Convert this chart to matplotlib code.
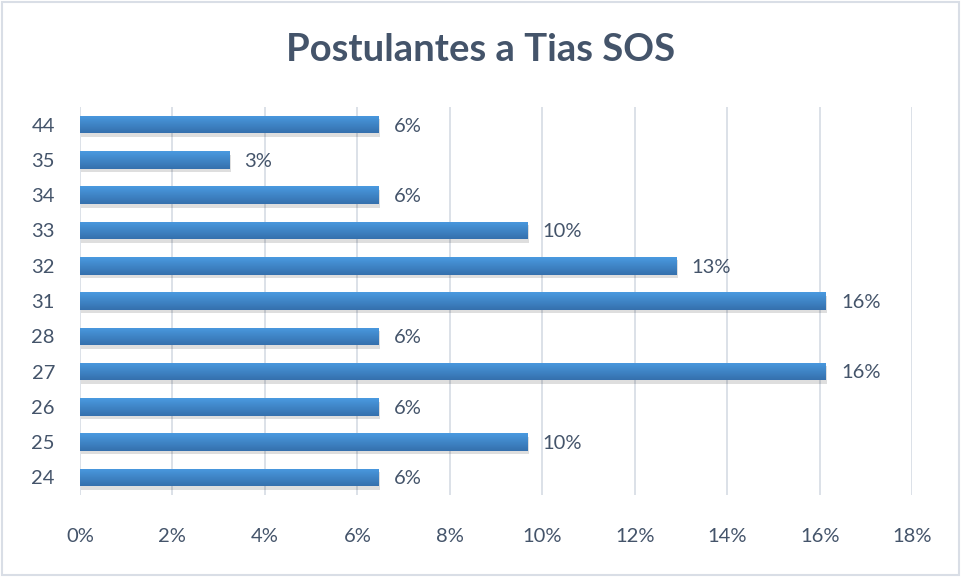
import numpy as np
import matplotlib.pyplot as plt
import matplotlib.patheffects as pe
from matplotlib.ticker import FuncFormatter

plt.rcParams['font.family'] = ['Lato', 'DejaVu Sans']

# Data
edades = ["24", "25", "26", "27", "28", "31", "32", "33", "34", "35", "44"]
porcentajes = [6.45, 9.68, 6.45, 16.13, 6.45, 16.13, 12.90, 9.68, 6.45, 3.23, 6.45]
etiquetas = ["6%", "10%", "6%", "16%", "6%", "16%", "13%", "10%", "6%", "3%", "6%"]

text_color = "#44546A"
grid_color = "#D9DEE6"

fig = plt.figure(figsize=(9.61, 5.77), dpi=100)
ax = fig.add_axes([0.0832, 0.142, 0.866, 0.6725])

y = np.arange(len(edades))
bars = ax.barh(y, porcentajes, height=0.5, color="#3F86CF", zorder=3,
               path_effects=[pe.SimplePatchShadow(offset=(1, -2.5), shadow_rgbFace="#000000", alpha=0.13), pe.Normal()])

# vertical gradient on each bar (lighter top, darker bottom)
grad = np.linspace(0, 1, 64).reshape(-1, 1)
cmap = plt.matplotlib.colors.LinearSegmentedColormap.from_list("g", ["#4A9AE0", "#3570AD"])
for b in bars:
    x0, y0, w, h = b.get_x(), b.get_y(), b.get_width(), b.get_height()
    im = ax.imshow(grad, cmap=cmap, aspect="auto", extent=(x0, x0 + w, y0, y0 + h),
                   origin="upper", zorder=4)
    im.set_clip_path(b)

for i, (v, lab) in enumerate(zip(porcentajes, etiquetas)):
    ax.annotate(lab, (v, i), xytext=(11, -1), textcoords="offset points",
                va="center", ha="left", fontsize=14.5, color=text_color)

ax.set_xlim(0, 18)
ax.set_ylim(-0.5, len(edades) - 0.5)
ax.set_xticks(np.arange(0, 19, 2))
ax.xaxis.set_major_formatter(FuncFormatter(lambda v, p: f"{int(v)}%"))
ax.set_yticks(y)
ax.set_yticklabels(edades)
ax.tick_params(axis="both", length=0, labelsize=14.5, colors=text_color)
ax.tick_params(axis="x", pad=24)
ax.tick_params(axis="y", pad=18)
ax.grid(axis="x", color=grid_color, linewidth=1.3, zorder=0)
for s in ax.spines.values():
    s.set_visible(False)

fig.text(0.5, 0.913, "Postulantes a Tias SOS", ha="center", va="center",
         fontsize=27.5, fontweight="bold", color=text_color)

# outer chart border
fig.patches.append(plt.Rectangle((0.002, 0.003), 0.996, 0.994, transform=fig.transFigure,
                                 fill=False, edgecolor="#D9DEE6", linewidth=1.5))

fig.savefig("out.png", dpi=100)
